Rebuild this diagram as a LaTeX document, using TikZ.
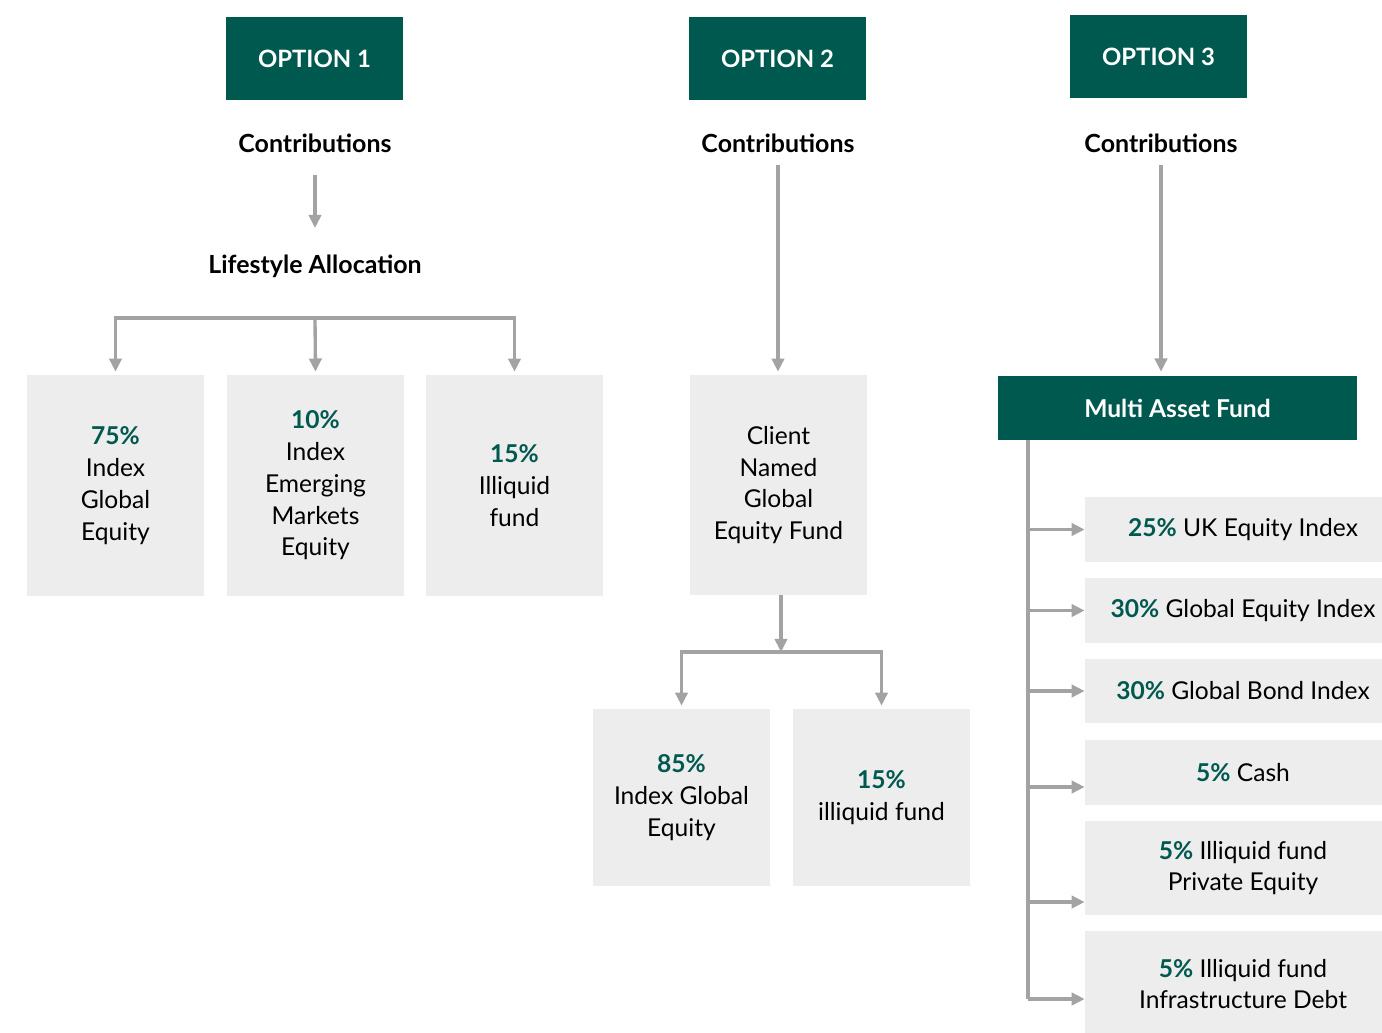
\documentclass[tikz,border=0pt]{standalone}
\usepackage{fontspec}
\setmainfont{Lato}
\usetikzlibrary{arrows.meta}
\definecolor{fundgreen}{HTML}{00594F}
\definecolor{boxgrey}{HTML}{EDEDED}
\definecolor{linegrey}{HTML}{A3A3A3}
\newcommand{\perc}[1]{\textbf{\textcolor{fundgreen}{#1}}}
\begin{document}
\begin{tikzpicture}[x=0.02cm,y=-0.02cm,
    header/.style={fill=fundgreen,text=white,font=\bfseries\fontsize{13.6}{16}\selectfont,minimum width=3.54cm,minimum height=1.66cm,inner sep=0pt},
    title/.style={font=\bfseries\fontsize{14.2}{17}\selectfont,inner sep=0pt},
    fund/.style={fill=boxgrey,align=center,font=\fontsize{14}{18.1}\selectfont,inner sep=0pt},
    line/.style={draw=linegrey,line width=1.9pt},
    arr/.style={line,-{Triangle[width=7pt,length=7.5pt]}}]
    \useasboundingbox (0,0) rectangle (1382,1032);
    % option 1
    \node[header] (opt1) at (314.5,58.5) {OPTION 1};
    \node[title] (contrib1) at (315,143) {Contributions};
    \node[title] (life) at (315,266) {Lifestyle Allocation};
    \node[fund,minimum width=3.54cm,minimum height=4.42cm] (ige) at (115.5,485.5) {\perc{75\%}\\Index\\Global\\Equity};
    \node[fund,minimum width=3.54cm,minimum height=4.42cm] (iem) at (315.5,485.5) {\perc{10\%}\\Index\\Emerging\\Markets\\Equity};
    \node[fund,minimum width=3.54cm,minimum height=4.42cm] (ill1) at (514.5,485.5) {\perc{15\%}\\Illiquid\\fund};
    \coordinate (split1) at (315,318);
    \draw[arr,shorten <=0.64cm,shorten >=0.76cm] (contrib1.center) -- (life.center);
    \draw[arr,shorten >=0.06cm] (split1) -| (ige.north);
    \draw[arr,shorten >=0.06cm] (split1) -| (ill1.north);
    \draw[arr,shorten >=0.06cm] (split1) -- (iem.north);
    % option 2
    \node[header] (opt2) at (777.5,58.5) {OPTION 2};
    \node[title] (contrib2) at (778,143) {Contributions};
    \node[fund,minimum width=3.54cm,minimum height=4.4cm] (client) at (778.5,485) {Client\\Named\\Global\\Equity Fund};
    \node[fund,minimum width=3.54cm,minimum height=3.54cm] (ige2) at (681.5,797.5) {\perc{85\%}\\Index Global\\Equity};
    \node[fund,minimum width=3.54cm,minimum height=3.54cm] (ill2) at (881.5,797.5) {\perc{15\%}\\illiquid fund};
    \coordinate (split2) at (781,652);
    \draw[arr,shorten <=0.44cm,shorten >=0.06cm] (contrib2.center) -- (contrib2.center |- client.north);
    \draw[arr] (client.south -| split2) -- (split2);
    \draw[arr,shorten >=0.06cm] (split2) -| (ige2.north);
    \draw[arr,shorten >=0.06cm] (split2) -| (ill2.north);
    % option 3
    \node[header] (opt3) at (1158.5,56.5) {OPTION 3};
    \node[title] (contrib3) at (1161,143) {Contributions};
    \node[header,font=\bfseries\fontsize{14}{16}\selectfont,minimum width=7.18cm,minimum height=1.28cm] (multi) at (1177.5,408) {Multi Asset Fund};
    \node[fund,minimum width=6.32cm,minimum height=1.3cm] (uk) at (1243,529.5) {\perc{25\%} UK Equity Index};
    \node[fund,minimum width=6.32cm,minimum height=1.3cm] (gei) at (1243,610.5) {\perc{30\%} Global Equity Index};
    \node[fund,minimum width=6.32cm,minimum height=1.28cm] (gbi) at (1243,691) {\perc{30\%} Global Bond Index};
    \node[fund,minimum width=6.32cm,minimum height=1.3cm] (cash) at (1243,772.5) {\perc{5\%} Cash};
    \node[fund,minimum width=6.32cm,minimum height=1.88cm] (pe) at (1243,868) {\perc{5\%} Illiquid fund\\Private Equity};
    \node[fund,minimum width=6.32cm,minimum height=2.12cm] (infra) at (1243,984) {\perc{5\%} Illiquid fund\\Infrastructure Debt};
    \coordinate (trunk) at (1028,999);
    \draw[arr,shorten <=0.44cm,shorten >=0.08cm] (contrib3.center) -- (contrib3.center |- multi.north);
    \draw[line] (multi.south -| trunk) -- (trunk);
    \draw[arr] (uk.west -| trunk) -- (uk.west);
    \draw[arr] (gei.west -| trunk) -- (gei.west);
    \draw[arr] (gbi.west -| trunk) -- (gbi.west);
    \draw[arr] ([yshift=-0.29cm]cash.west -| trunk) -- ([yshift=-0.29cm]cash.west);
    \draw[arr] ([yshift=-0.68cm]pe.west -| trunk) -- ([yshift=-0.68cm]pe.west);
    \draw[arr] (trunk) -- (trunk -| infra.west);
\end{tikzpicture}
\end{document}
